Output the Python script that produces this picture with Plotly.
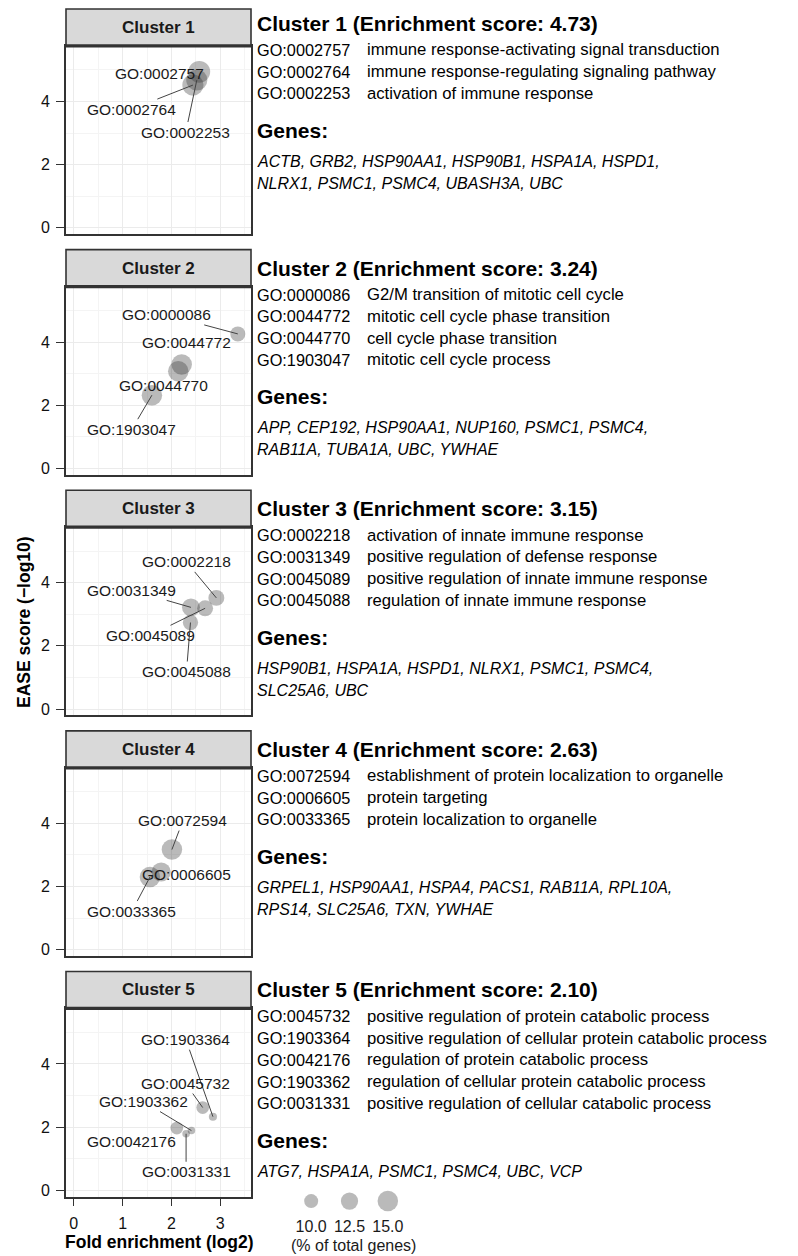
import plotly.graph_objects as go

W, H = 798, 1256
FONT = "Liberation Sans, Arial, Helvetica, sans-serif"

# ---------------- data ----------------
clusters = ["Cluster 1", "Cluster 2", "Cluster 3", "Cluster 4", "Cluster 5"]
enrichment_scores = ["4.73", "3.24", "3.15", "2.63", "2.10"]

c1_terms = ["GO:0002757", "GO:0002764", "GO:0002253"]
c1_desc = ["immune response-activating signal transduction",
           "immune response-regulating signaling pathway",
           "activation of immune response"]
c1_fold = [2.57, 2.44, 2.52]
c1_ease = [4.94, 4.52, 4.68]
c1_pct = [16.0, 15.5, 15.5]
c1_genes = ["ACTB, GRB2, HSP90AA1, HSP90B1, HSPA1A, HSPD1,",
            "NLRX1, PSMC1, PSMC4, UBASH3A, UBC"]

c2_terms = ["GO:0000086", "GO:0044772", "GO:0044770", "GO:1903047"]
c2_desc = ["G2/M transition of mitotic cell cycle",
           "mitotic cell cycle phase transition",
           "cell cycle phase transition",
           "mitotic cell cycle process"]
c2_fold = [3.36, 2.21, 2.14, 1.60]
c2_ease = [4.26, 3.29, 3.08, 2.32]
c2_pct = [10.8, 15.0, 15.0, 15.0]
c2_genes = ["APP, CEP192, HSP90AA1, NUP160, PSMC1, PSMC4,",
            "RAB11A, TUBA1A, UBC, YWHAE"]

c3_terms = ["GO:0002218", "GO:0031349", "GO:0045089", "GO:0045088"]
c3_desc = ["activation of innate immune response",
           "positive regulation of defense response",
           "positive regulation of innate immune response",
           "regulation of innate immune response"]
c3_fold = [2.92, 2.40, 2.69, 2.39]
c3_ease = [3.52, 3.22, 3.19, 2.74]
c3_pct = [11.5, 13.0, 11.5, 11.0]
c3_genes = ["HSP90B1, HSPA1A, HSPD1, NLRX1, PSMC1, PSMC4,",
            "SLC25A6, UBC"]

c4_terms = ["GO:0072594", "GO:0006605", "GO:0033365"]
c4_desc = ["establishment of protein localization to organelle",
           "protein targeting",
           "protein localization to organelle"]
c4_fold = [2.01, 1.79, 1.56]
c4_ease = [3.17, 2.46, 2.30]
c4_pct = [15.0, 14.0, 15.0]
c4_genes = ["GRPEL1, HSP90AA1, HSPA4, PACS1, RAB11A, RPL10A,",
            "RPS14, SLC25A6, TXN, YWHAE"]

c5_terms = ["GO:1903364", "GO:0045732", "GO:1903362", "GO:0042176", "GO:0031331"]
c5_list = ["GO:0045732", "GO:1903364", "GO:0042176", "GO:1903362", "GO:0031331"]
c5_desc = ["positive regulation of protein catabolic process",
           "positive regulation of cellular protein catabolic process",
           "regulation of protein catabolic process",
           "regulation of cellular protein catabolic process",
           "positive regulation of cellular catabolic process"]
c5_fold = [2.85, 2.64, 2.41, 2.11, 2.30]
c5_ease = [2.33, 2.62, 1.89, 1.97, 1.79]
c5_pct = [5.5, 9.0, 5.0, 9.0, 5.0]
c5_genes = ["ATG7, HSPA1A, PSMC1, PSMC4, UBC, VCP"]

legend_pct = [10.0, 12.5, 15.0]
legend_labels = ["10.0", "12.5", "15.0"]

x_ticks = [0, 1, 2, 3]
y_ticks = [0, 2, 4]

# ---------------- layout helpers (positions/styles) ----------------
def fx(p):
    return p / W

def fy(p):
    return 1 - p / H

def size_of(pct):
    return 14 + (pct - 10) * 1.3

PT_COLOR = "rgba(50,50,50,0.48)"
DARK = "#333333"

# label offsets in px (dx, dy) relative to point; connector shown?
label_style = {
    "GO:0002757": (-40, 2, False), "GO:0002764": (-61, 24, True), "GO:0002253": (-11, 52, True),
    "GO:0000086": (-71, -19, True), "GO:0044772": (5, -22, False), "GO:0044770": (-15, 14, False),
    "GO:1903047": (-20, 34, True),
    "GO:0002218": (-30, -36, True), "GO:0031349": (-59, -17, True), "GO:0045089": (-55, 27, True),
    "GO:0045088": (-4, 49, True),
    "GO:0072594": (11, -29, True), "GO:0006605": (25, 3, False), "GO:0033365": (-18, 34, True),
    "GO:1903364": (-27, -77, True), "GO:0045732": (-17, -24, True), "GO:1903362": (-48, -29, True),
    "GO:0042176": (-45, 13, False), "GO:0031331": (0, 38, True),
}

data = [
    (c1_terms, c1_fold, c1_ease, c1_pct, c1_terms, c1_desc, c1_genes),
    (c2_terms, c2_fold, c2_ease, c2_pct, c2_terms, c2_desc, c2_genes),
    (c3_terms, c3_fold, c3_ease, c3_pct, c3_terms, c3_desc, c3_genes),
    (c4_terms, c4_fold, c4_ease, c4_pct, c4_terms, c4_desc, c4_genes),
    (c5_terms, c5_fold, c5_ease, c5_pct, c5_list, c5_desc, c5_genes),
]
text_shift = [-4, 0, 0, 0, 0]

fig = go.Figure()
annotations = []
shapes = []
layout = {}

PX0, PX1 = 66, 251
STEP = 241
LBL_FONT = dict(family=FONT, size=15.5, color="#1a1a1a")

for k, (terms, fold, ease, pct, tlist, desc, genes) in enumerate(data):
    n = k + 1
    xa = "x" if n == 1 else f"x{n}"
    ya = "y" if n == 1 else f"y{n}"
    strip_top = 9 + STEP * k
    plot_top = 46 + STEP * k
    plot_bot = 234.5 + STEP * k

    fig.add_trace(go.Scatter(
        x=fold, y=ease, mode="markers", xaxis=xa, yaxis=ya,
        marker=dict(size=[size_of(p) for p in pct], color=PT_COLOR, line=dict(width=0)),
        showlegend=False, hoverinfo="skip"))

    last = (n == 5)
    layout["xaxis" if n == 1 else f"xaxis{n}"] = dict(
        domain=[fx(PX0), fx(PX1)], anchor=ya, range=[-0.16, 3.63],
        tickvals=x_ticks, showticklabels=last, ticks="outside" if last else "",
        ticklen=8, tickwidth=1.4, tickcolor=DARK, ticklabelstandoff=3,
        tickfont=dict(family=FONT, size=16, color="#111"),
        showgrid=True, gridcolor="#ebebeb", gridwidth=1.2,
        minor=dict(dtick=0.5, tick0=0, showgrid=True, gridcolor="#f4f4f4", gridwidth=0.8, ticks=""),
        zeroline=False, showline=True, mirror=True, linecolor=DARK, linewidth=1.6,
    )
    layout["yaxis" if n == 1 else f"yaxis{n}"] = dict(
        domain=[fy(plot_bot), fy(plot_top)], anchor=xa, range=[-0.2, 5.76],
        tickvals=y_ticks, ticks="outside", ticklen=8, tickwidth=1.4, tickcolor=DARK,
        ticklabelstandoff=3,
        tickfont=dict(family=FONT, size=16, color="#111"),
        showgrid=True, gridcolor="#ebebeb", gridwidth=1.2,
        minor=dict(dtick=1, tick0=0, showgrid=True, gridcolor="#f4f4f4", gridwidth=0.8, ticks=""),
        zeroline=False, showline=True, mirror=True, linecolor=DARK, linewidth=1.6,
    )

    # strip
    shapes.append(dict(type="rect", xref="paper", yref="paper",
                       x0=fx(PX0), x1=fx(PX1), y0=fy(plot_top), y1=fy(strip_top),
                       fillcolor="#d9d9d9", line=dict(color=DARK, width=1.6)))
    shapes.append(dict(type="line", xref="paper", yref="paper",
                       x0=fx(PX0), x1=fx(PX1), y0=fy(plot_top), y1=fy(plot_top),
                       line=dict(color=DARK, width=3.2)))
    annotations.append(dict(text=f"<b>{clusters[k]}</b>", xref="paper", yref="paper",
                            x=fx((PX0 + PX1) / 2), y=fy((strip_top + plot_top) / 2),
                            showarrow=False, xanchor="center", yanchor="middle",
                            font=dict(family=FONT, size=17, color="#1a1a1a")))

    # point labels
    for t, xv, yv in zip(terms, fold, ease):
        dx, dy, line = label_style[t]
        if line:
            annotations.append(dict(text=t, x=xv, y=yv, xref=xa, yref=ya,
                                    showarrow=True, ax=dx, ay=dy, arrowhead=0,
                                    arrowwidth=1, arrowcolor="#444", standoff=0,
                                    font=LBL_FONT))
        else:
            annotations.append(dict(text=t, x=xv, y=yv, xref=xa, yref=ya,
                                    showarrow=False, xshift=dx, yshift=-dy,
                                    font=LBL_FONT))

    # right-side text
    TX = 255
    base = strip_top + text_shift[k]
    header_y = base + 18.5
    annotations.append(dict(text=f"<b>{clusters[k]} (Enrichment score: {enrichment_scores[k]})</b>",
                            xref="paper", yref="paper", x=fx(TX), y=fy(header_y),
                            showarrow=False, xanchor="left", yanchor="middle",
                            font=dict(family=FONT, size=21, color="#000")))
    for i, (t, d) in enumerate(zip(tlist, desc)):
        yy = base + 45 + 21.8 * i
        annotations.append(dict(text=t, xref="paper", yref="paper", x=fx(TX), y=fy(yy),
                                showarrow=False, xanchor="left", yanchor="middle",
                                font=dict(family=FONT, size=16.3, color="#000")))
        annotations.append(dict(text=d, xref="paper", yref="paper", x=fx(365), y=fy(yy),
                                showarrow=False, xanchor="left", yanchor="middle",
                                font=dict(family=FONT, size=16.7, color="#000")))
    genes_y = base + 45 + 21.8 * (len(tlist) - 1) + 37
    annotations.append(dict(text="<b>Genes:</b>", xref="paper", yref="paper", x=fx(TX), y=fy(genes_y),
                            showarrow=False, xanchor="left", yanchor="middle",
                            font=dict(family=FONT, size=21, color="#000")))
    for j, g in enumerate(genes):
        annotations.append(dict(text=f"<i>{g}</i>", xref="paper", yref="paper", x=fx(TX),
                                y=fy(genes_y + 31 + 22 * j),
                                showarrow=False, xanchor="left", yanchor="middle",
                                font=dict(family=FONT, size=16, color="#000")))

# size legend on its own categorical axis
fig.add_trace(go.Scatter(
    x=legend_labels, y=[0, 0, 0], mode="markers", xaxis="x6", yaxis="y6",
    marker=dict(size=[size_of(p) for p in legend_pct], color=PT_COLOR, line=dict(width=0)),
    showlegend=False, hoverinfo="skip"))
layout["xaxis6"] = dict(domain=[fx(292), fx(407)], anchor="y6", type="category",
                        range=[-0.5, 2.5], showgrid=False, zeroline=False, showline=False,
                        ticks="", ticklabelstandoff=2,
                        tickfont=dict(family=FONT, size=16, color="#1a1a1a"))
layout["yaxis6"] = dict(domain=[fy(1215), fy(1191)], anchor="x6", range=[-1, 1], visible=False)
annotations.append(dict(text="(% of total genes)", xref="paper", yref="paper",
                        x=fx(353), y=fy(1247), showarrow=False, xanchor="center", yanchor="middle",
                        font=dict(family=FONT, size=16, color="#1a1a1a")))

# axis titles
annotations.append(dict(text="<b>Fold enrichment (log2)</b>", xref="paper", yref="paper",
                        x=fx(159), y=fy(1244), showarrow=False, xanchor="center", yanchor="middle",
                        font=dict(family=FONT, size=17.5, color="#000")))
annotations.append(dict(text="<b>EASE score (\u2212log10)</b>", xref="paper", yref="paper",
                        x=fx(24), y=fy(623), showarrow=False, xanchor="center", yanchor="middle",
                        textangle=-90, font=dict(family=FONT, size=17.5, color="#000")))

fig.update_layout(
    width=W, height=H, margin=dict(l=0, r=0, t=0, b=0),
    paper_bgcolor="white", plot_bgcolor="white",
    annotations=annotations, shapes=shapes, showlegend=False,
    **layout,
)

fig.write_html("out.html", config={"displayModeBar": False},
               post_script="document.body.style.margin='0px';")
